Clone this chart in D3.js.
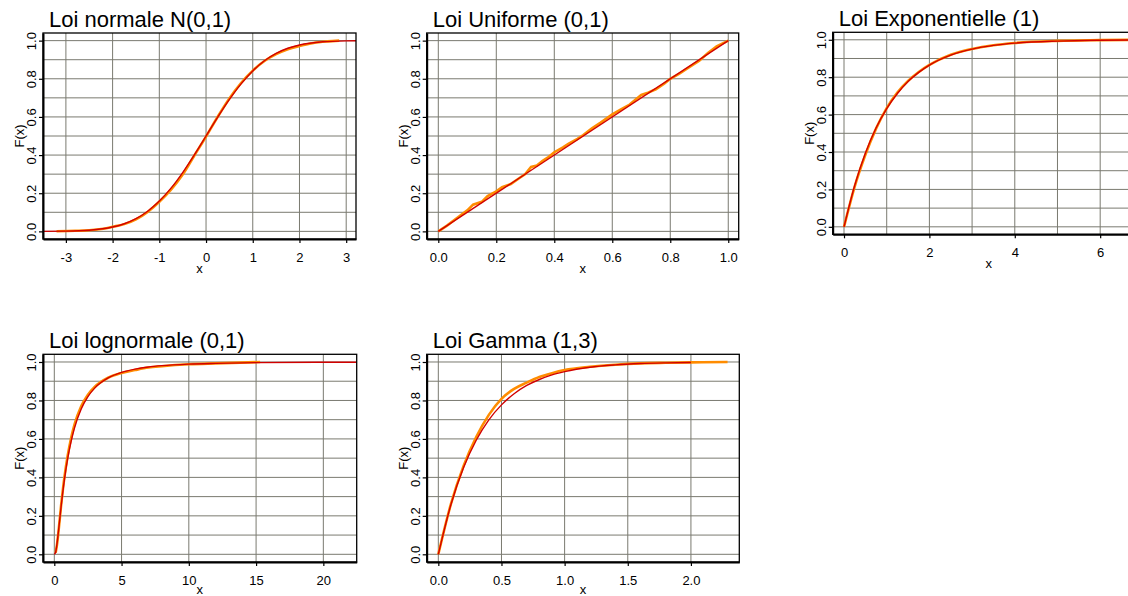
<!DOCTYPE html>
<html>
 <head>
  <meta charset="utf-8" />
  <title>Fonctions de repartition</title>
  <script src="https://cdn.jsdelivr.net/npm/d3@7"></script>
  <style>
    body { margin: 0; background: #fff; }
    svg { display: block; font-family: "Liberation Sans", Arial, sans-serif; }
  </style>
 </head>
 <body>
  <script>
    var normX    = [-3.49,-3,-2.5,-2,-1.75,-1.5,-1.25,-1,-0.75,-0.5,-0.25,0,0.25,0.5,0.75,1,1.25,1.5,1.75,2,2.5,3,3.21],
        normF    = [0.0002,0.0013,0.0062,0.0228,0.0401,0.0668,0.1056,0.1587,0.2266,0.3085,0.4013,0.5,0.5987,0.6915,0.7734,0.8413,0.8944,0.9332,0.9599,0.9772,0.9938,0.9987,0.9993],
        normEmpX = [-3.2,-2.8,-2.5,-2.2,-2,-1.75,-1.5,-1.25,-1,-0.75,-0.5,-0.25,0,0.25,0.5,0.75,1,1.25,1.5,1.75,2,2.3,2.6,2.85],
        normEmpF = [0.001,0.003,0.006,0.014,0.024,0.038,0.063,0.102,0.155,0.219,0.298,0.398,0.497,0.601,0.697,0.778,0.843,0.893,0.929,0.955,0.972,0.988,0.996,1.0];

    var unifX    = [0, 1],
        unifF    = [0, 1],
        unifEmpX = [0,0.03,0.06,0.1,0.12,0.15,0.17,0.2,0.22,0.25,0.28,0.3,0.32,0.34,0.36,0.38,0.4,0.43,0.45,0.48,0.5,0.53,0.56,0.6,0.63,0.66,0.7,0.72,0.75,0.78,0.8,0.83,0.86,0.9,0.93,0.96,1.0],
        unifEmpF = [0,0.03,0.065,0.11,0.14,0.155,0.185,0.21,0.232,0.248,0.28,0.3,0.338,0.345,0.37,0.39,0.415,0.44,0.46,0.485,0.505,0.54,0.57,0.613,0.64,0.665,0.715,0.725,0.745,0.775,0.8,0.825,0.855,0.895,0.935,0.97,1.0];

    var expX     = [0,0.25,0.5,0.75,1,1.25,1.5,1.75,2,2.5,3,3.5,4,5,6,7.05],
        expF     = [0,0.221,0.393,0.528,0.632,0.713,0.777,0.826,0.865,0.918,0.95,0.97,0.982,0.993,0.9975,0.9991],
        expEmpX  = [0,0.25,0.5,0.75,1,1.25,1.5,1.75,2,2.5,3,3.5,4,5,6,6.8],
        expEmpF  = [0,0.215,0.385,0.525,0.635,0.718,0.78,0.828,0.866,0.92,0.951,0.971,0.983,0.994,0.998,1.0];

    var lnX      = [0,0.1,0.2,0.3,0.5,0.75,1,1.25,1.5,2,2.5,3,4,5,6,7,8,10,12,15,20,22.48],
        lnF      = [0,0.011,0.054,0.114,0.244,0.387,0.5,0.587,0.657,0.756,0.82,0.864,0.917,0.946,0.963,0.974,0.981,0.989,0.993,0.9966,0.9986,0.999],
        lnEmpX   = [0.1,0.2,0.3,0.5,0.75,1,1.25,1.5,2,2.5,3,4,5,6,7,8,10,12,15.3],
        lnEmpF   = [0.008,0.05,0.11,0.25,0.4,0.515,0.605,0.675,0.77,0.83,0.87,0.918,0.943,0.958,0.971,0.978,0.988,0.993,1.0];

    var gamX     = [0,0.1,0.2,0.3,0.4,0.5,0.6,0.7,0.8,0.9,1.0,1.2,1.4,1.6,1.8,2.0],
        gamF     = [0,0.259,0.451,0.593,0.699,0.777,0.835,0.878,0.909,0.933,0.95,0.973,0.985,0.992,0.9955,0.9975],
        gamEmpX  = [0,0.1,0.2,0.3,0.4,0.5,0.6,0.7,0.8,0.9,1.0,1.2,1.4,1.6,1.8,2.0,2.29],
        gamEmpF  = [0,0.262,0.46,0.61,0.725,0.808,0.86,0.893,0.922,0.942,0.958,0.975,0.986,0.993,0.996,0.998,1.0];

    var yTicks = [0, 0.2, 0.4, 0.6, 0.8, 1.0],
        yGrid  = d3.range(0, 11).map(function(i) { return i / 10; });

    var intFmt = function(d) { return String(d); };

    var panels = [
      { title: "Loi normale N(0,1)", box: [43, 33, 356, 239], xdom: [-3.49, 3.21],
        xticks: [-3,-2,-1,0,1,2,3], xgrid: [-3,-2,-1,0,1,2,3], fmt: intFmt,
        tx: normX, tf: normF, ex: normEmpX, ef: normEmpF, smooth: true },
      { title: "Loi Uniforme (0,1)", box: [426.7, 33, 738.7, 239], xdom: [-0.04, 1.036],
        xticks: [0,0.2,0.4,0.6,0.8,1], xgrid: [0,0.2,0.4,0.6,0.8,1], fmt: d3.format(".1f"),
        tx: unifX, tf: unifF, ex: unifEmpX, ef: unifEmpF, smooth: false },
      { title: "Loi Exponentielle (1)", box: [832.7, 32.3, 1145, 234.3], xdom: [-0.265, 7.05],
        xticks: [0,2,4,6], xgrid: [0,1,2,3,4,5,6,7], fmt: intFmt,
        tx: expX, tf: expF, ex: expEmpX, ef: expEmpF, smooth: true },
      { title: "Loi lognormale (0,1)", box: [43, 354.3, 356.7, 562], xdom: [-0.84, 22.48],
        xticks: [0,5,10,15,20], xgrid: [0,5,10,15,20], fmt: intFmt,
        tx: lnX, tf: lnF, ex: lnEmpX, ef: lnEmpF, smooth: true },
      { title: "Loi Gamma (1,3)", box: [426.7, 354.3, 739.3, 562], xdom: [-0.092, 2.383],
        xticks: [0,0.5,1,1.5,2], xgrid: [0,0.5,1,1.5,2], fmt: d3.format(".1f"),
        tx: gamX, tf: gamF, ex: gamEmpX, ef: gamEmpF, smooth: true }
    ];

    var svg = d3.select("body").append("svg")
        .attr("width", 1128)
        .attr("height", 596);

    panels.forEach(function(p) {
      var x0 = p.box[0], y0 = p.box[1], x1 = p.box[2], y1 = p.box[3];
      var x = d3.scaleLinear().domain(p.xdom).range([x0, x1]),
          y = d3.scaleLinear().domain([-0.04, 1.04]).range([y1, y0]);

      var g = svg.append("g");

      // grid
      g.selectAll(".hg").data(yGrid).enter().append("line")
        .attr("x1", x0).attr("x2", x1)
        .attr("y1", function(d) { return y(d); })
        .attr("y2", function(d) { return y(d); })
        .attr("stroke", "#7a7a70").attr("stroke-width", 1);
      g.selectAll(".vg").data(p.xgrid).enter().append("line")
        .attr("y1", y0).attr("y2", y1)
        .attr("x1", function(d) { return x(d); })
        .attr("x2", function(d) { return x(d); })
        .attr("stroke", "#7a7a70").attr("stroke-width", 1);

      // curves: empirical (orange) then theoretical (red)
      var line = d3.line()
        .x(function(d) { return x(d[0]); })
        .y(function(d) { return y(d[1]); })
        .curve(p.smooth ? d3.curveMonotoneX : d3.curveLinear);

      g.append("path")
        .datum(d3.zip(p.ex, p.ef))
        .attr("d", line)
        .attr("fill", "none")
        .attr("stroke", "#ff8c00")
        .attr("stroke-width", 2.6);

      g.append("path")
        .datum(d3.zip(p.tx, p.tf))
        .attr("d", line.curve(d3.curveMonotoneX))
        .attr("fill", "none")
        .attr("stroke", "#d10000")
        .attr("stroke-width", 1.4);

      // box
      g.append("rect")
        .attr("x", x0).attr("y", y0)
        .attr("width", x1 - x0).attr("height", y1 - y0)
        .attr("fill", "none").attr("stroke", "#000").attr("stroke-width", 1.3);

      // axes
      var ax = g.append("g")
        .attr("transform", "translate(0," + y1 + ")")
        .call(d3.axisBottom(x).tickValues(p.xticks).tickFormat(p.fmt).tickSize(4).tickSizeOuter(0));
      ax.select(".domain").attr("stroke-width", 2);
      ax.selectAll(".tick line").attr("stroke-width", 1.2);
      ax.selectAll("text")
        .attr("y", 23).attr("dy", 0)
        .style("font-size", "13px")
        .style("font-family", "Liberation Sans, Arial, sans-serif")
        .attr("fill", "#000");

      var ay = g.append("g")
        .attr("transform", "translate(" + x0 + ",0)")
        .call(d3.axisLeft(y).tickValues(yTicks).tickFormat(d3.format(".1f")).tickSize(4).tickSizeOuter(0));
      ay.select(".domain").attr("stroke-width", 2);
      ay.selectAll(".tick line").attr("stroke-width", 1.2);
      ay.selectAll("text")
        .attr("transform", "rotate(-90)")
        .attr("x", 0).attr("y", -7).attr("dy", 0)
        .attr("text-anchor", "middle")
        .style("font-size", "13px")
        .style("font-family", "Liberation Sans, Arial, sans-serif")
        .attr("fill", "#000");

      // labels
      g.append("text")
        .attr("x", (x0 + x1) / 2)
        .attr("y", Math.min(y1 + 34, 594))
        .attr("text-anchor", "middle")
        .style("font-size", "13px")
        .text("x");

      g.append("text")
        .attr("transform", "translate(" + (x0 - 19) + "," + ((y0 + y1) / 2) + ") rotate(-90)")
        .attr("text-anchor", "middle")
        .style("font-size", "13px")
        .text("F(x)");

      g.append("text")
        .attr("x", x0 + 6)
        .attr("y", y0 - 6)
        .style("font-size", "22px")
        .text(p.title);
    });
  </script>
 </body>
</html>
